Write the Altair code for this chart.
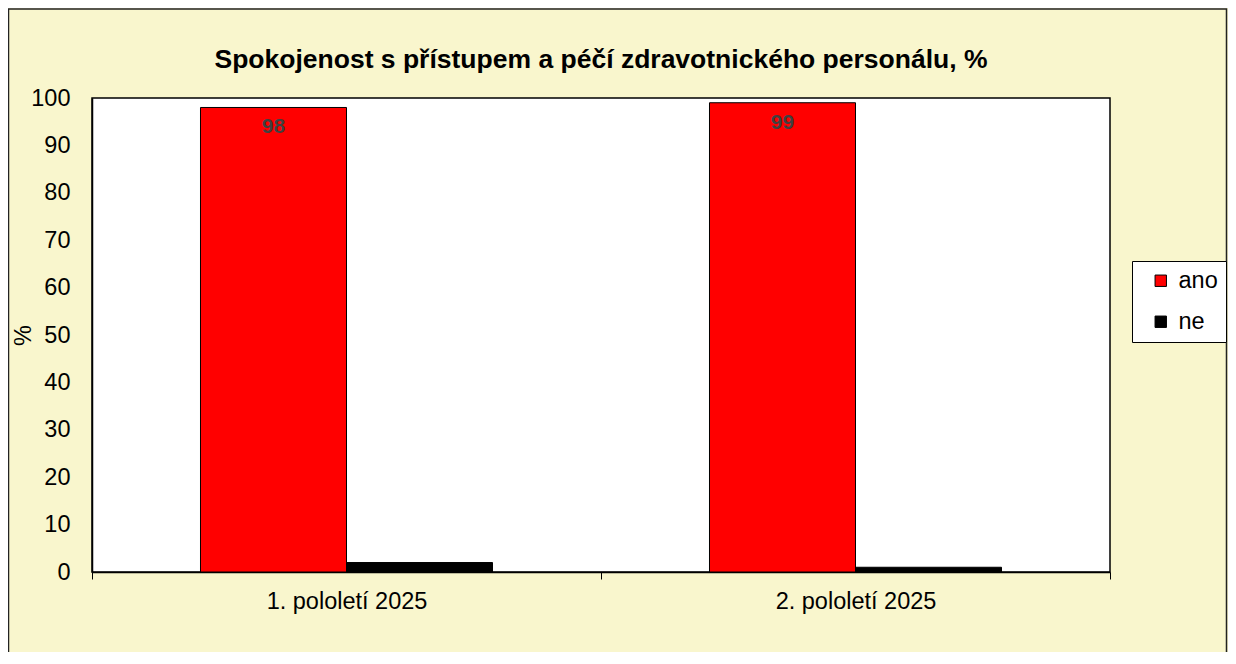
import altair as alt
import pandas as pd

categories = ["1. pololetí 2025", "2. pololetí 2025"]
series = ["ano", "ne"]
ano_values = [98, 99]
ne_values = [2, 1]
title_text = "Spokojenost s přístupem a péčí zdravotnického personálu, %"

rows = []
for c, a, n in zip(categories, ano_values, ne_values):
    rows.append({"kat": c, "serie": "ano", "hodnota": a})
    rows.append({"kat": c, "serie": "ne", "hodnota": n})
df = pd.DataFrame(rows)

FONT = "Liberation Sans"
FS = 23.5
W, H = 1018, 474
PAD_L, PAD_T, PAD_R, PAD_B = 84, 90, 118, 80

x_enc = alt.X("kat:N", sort=categories,
              scale=alt.Scale(paddingInner=0, paddingOuter=0),
              axis=alt.Axis(title=None, labelAngle=0, tickBand="extent",
                            ticks=True, tickSize=7, tickColor="black",
                            domainColor="black", domainWidth=1.5,
                            labelFontSize=FS, labelPadding=10, labelColor="black",
                            labelFont=FONT, grid=False))
xo_enc = alt.XOffset("serie:N", sort=series,
                     scale=alt.Scale(domain=series, paddingInner=0, paddingOuter=0.743))
y_enc = alt.Y("hodnota:Q",
              scale=alt.Scale(domain=[0, 100], nice=False),
              axis=alt.Axis(title="%", values=list(range(0, 101, 10)), ticks=False,
                            labelFontSize=FS, labelPadding=22, labelColor="black",
                            labelFont=FONT, domainColor="black", domainWidth=1.5,
                            grid=False, titleFontSize=FS, titleFontWeight="normal",
                            titleFont=FONT, titleColor="black",
                            titleX=-57, titleY=237, titleAngle=-90))

frame = alt.Chart(pd.DataFrame({"k": [0]})).mark_rect(
    fill=None, stroke="#222222", strokeWidth=1.5
).encode(
    x=alt.value(-PAD_L + 0.5), x2=alt.value(W + PAD_R - 1.5),
    y=alt.value(-PAD_T + 1), y2=alt.value(H + 200)
)

title = alt.Chart(pd.DataFrame({"t": [title_text]})).mark_text(
    fontSize=26.5, fontWeight="bold", font=FONT, color="black",
    align="center", baseline="alphabetic"
).encode(
    x=alt.value(W / 2), y=alt.value(-30), text="t:N"
)

bars = alt.Chart(df).mark_bar(stroke="black", strokeWidth=1).encode(
    x=x_enc,
    xOffset=xo_enc,
    y=y_enc,
    color=alt.Color("serie:N", sort=series,
                    scale=alt.Scale(domain=series, range=["#FF0000", "#000000"]),
                    legend=alt.Legend(title=None, orient="none", legendX=1040, legendY=163,
                                      symbolType="square", symbolSize=130,
                                      symbolStrokeColor="black", symbolStrokeWidth=1,
                                      symbolOffset=9,
                                      labelFontSize=FS, labelFont=FONT, labelColor="black",
                                      rowPadding=16, padding=8, labelOffset=6,
                                      strokeColor="black", fillColor="white")),
)

labels = alt.Chart(df).transform_filter(alt.datum.serie == "ano").mark_text(
    dy=20, fontSize=21, fontWeight="bold", color="#404040", font=FONT, baseline="middle"
).encode(
    x=alt.X("kat:N", sort=categories),
    xOffset=alt.XOffset("serie:N", sort=series),
    y=alt.Y("hodnota:Q"),
    text=alt.Text("hodnota:Q"),
)

chart = alt.layer(frame, title, bars, labels).properties(
    width=W, height=H,
    autosize=alt.AutoSizeParams(type="none"),
    padding={"left": PAD_L, "top": PAD_T, "right": PAD_R, "bottom": PAD_B},
    background="#F9F6CD",
).configure_view(fill="white", stroke="black", strokeWidth=1.5)

chart.save("out.html", embed_options={"renderer": "svg", "actions": False})
